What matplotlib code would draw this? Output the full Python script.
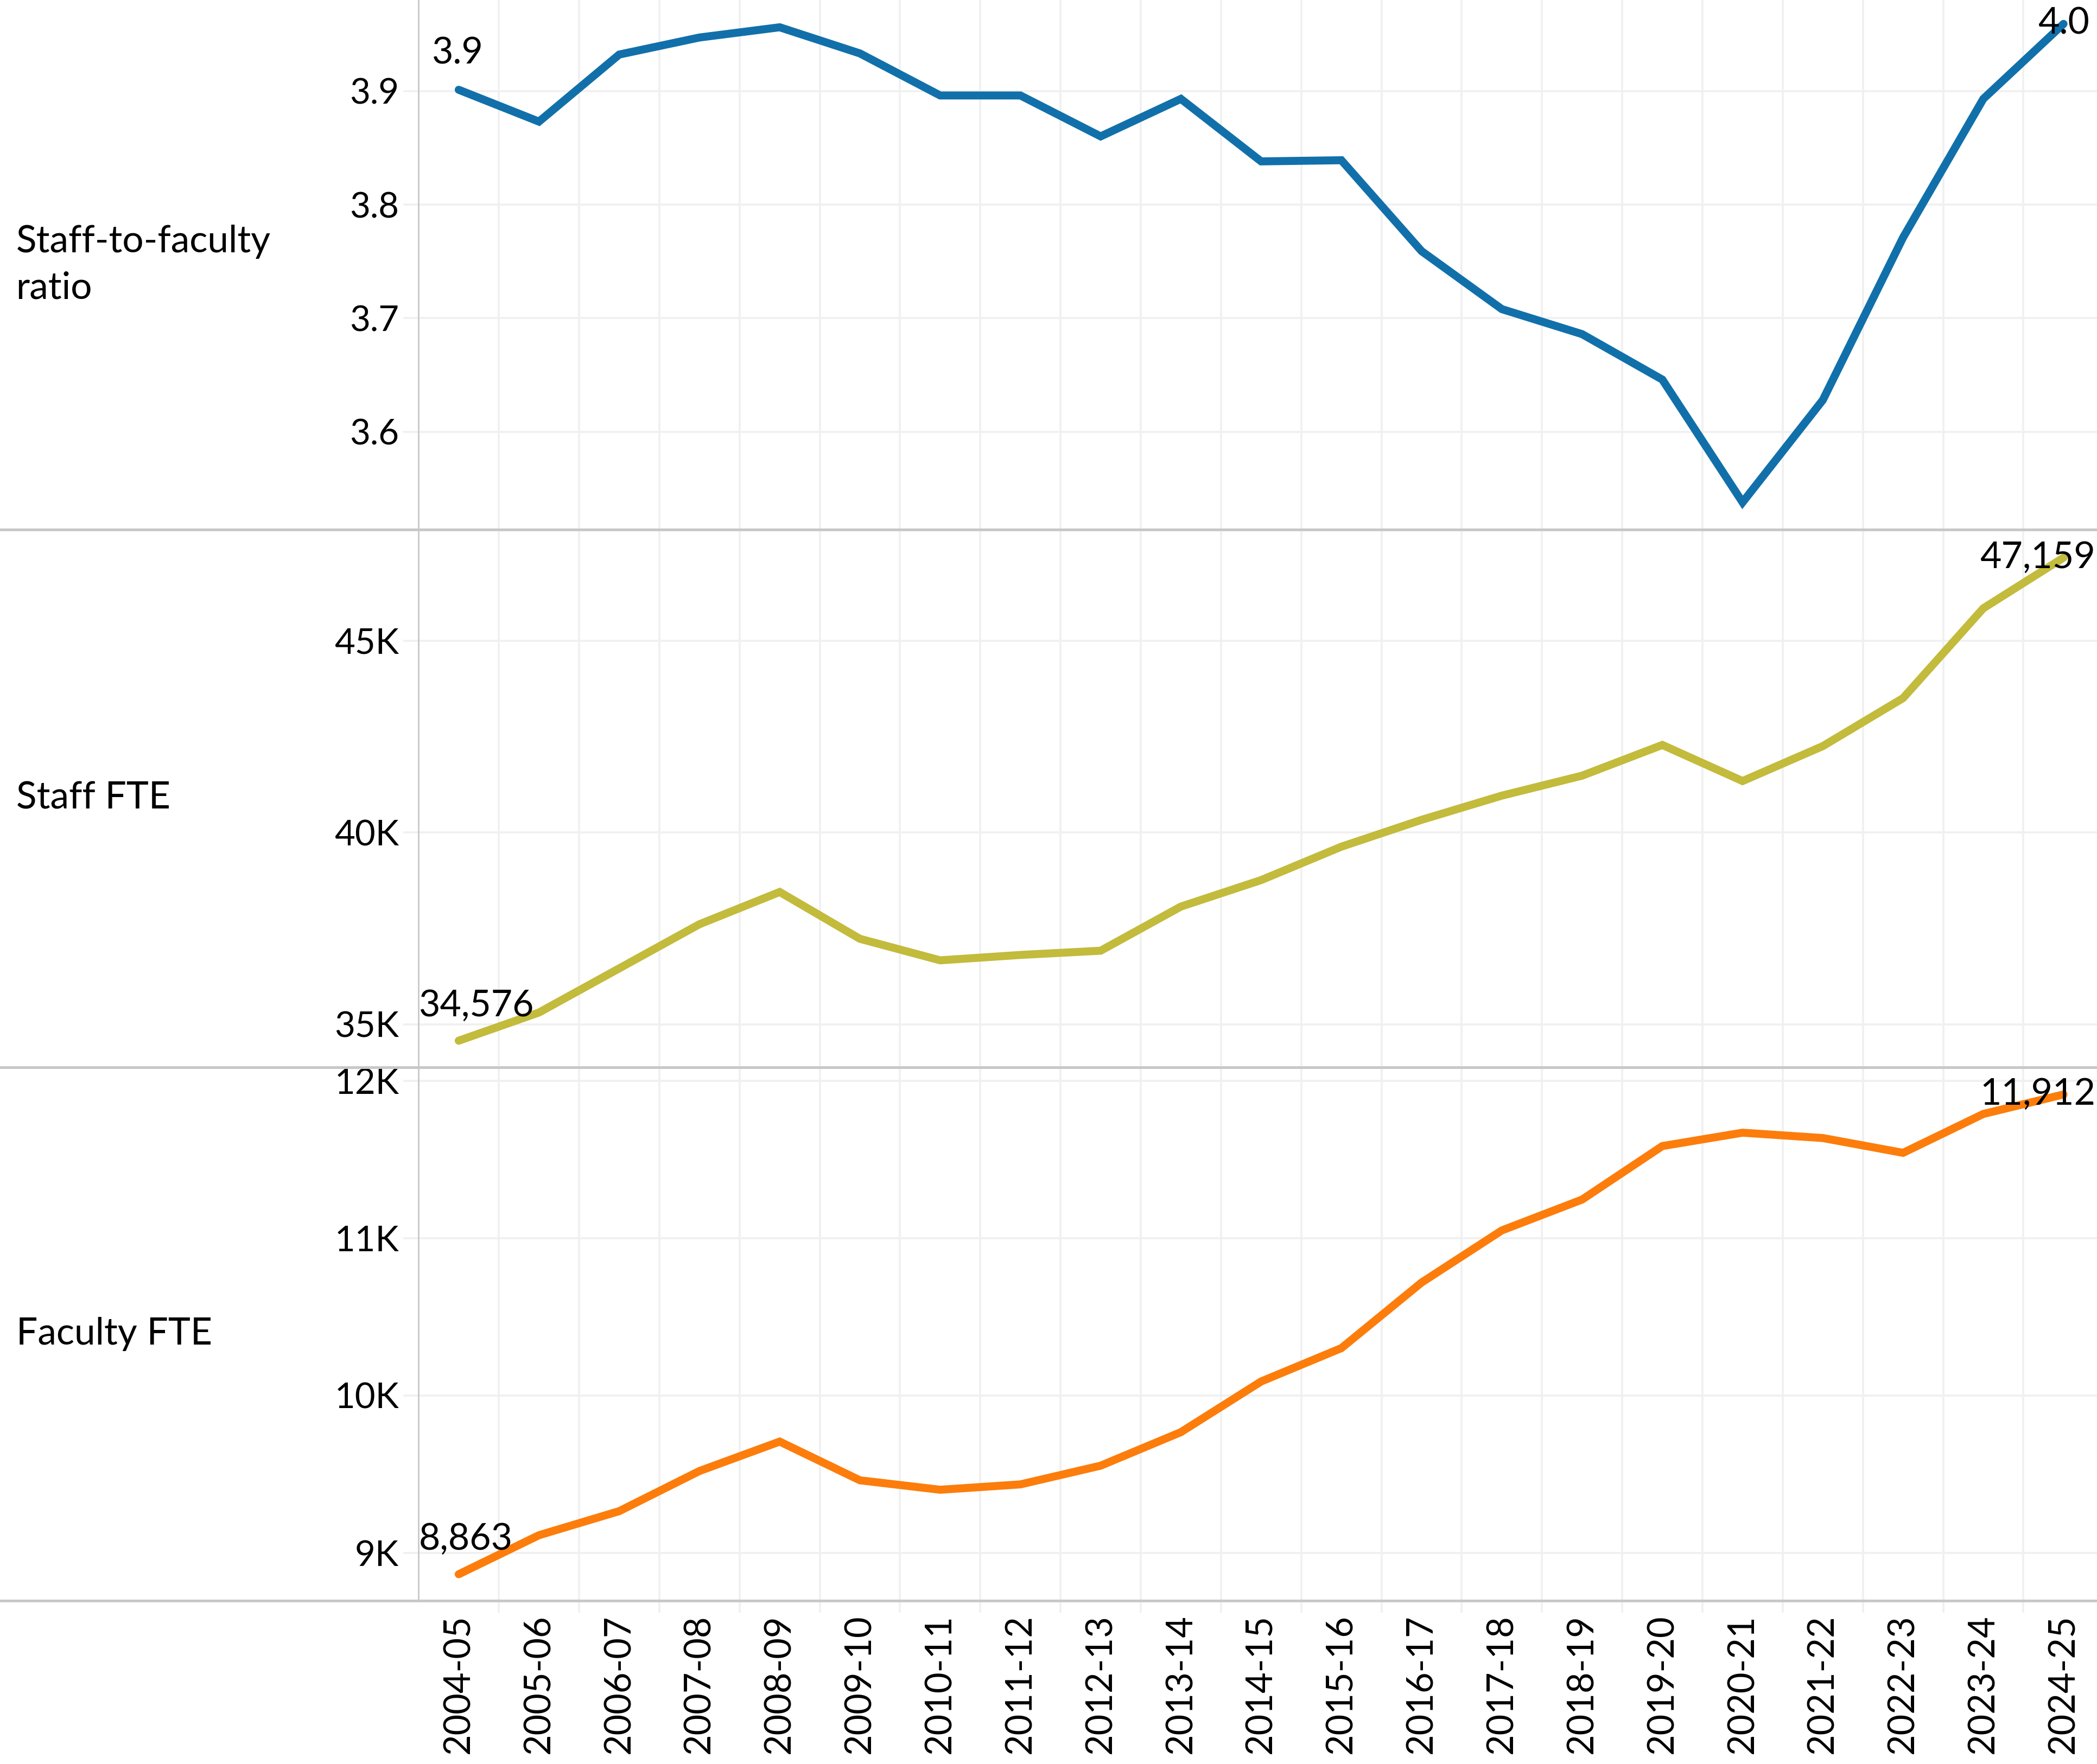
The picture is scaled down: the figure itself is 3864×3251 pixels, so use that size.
import matplotlib
matplotlib.use("Agg")
import matplotlib.pyplot as plt
from matplotlib.lines import Line2D
from matplotlib.ticker import FuncFormatter

plt.rcParams['font.family'] = ['Lato', 'DejaVu Sans']

years = ["2004-05", "2005-06", "2006-07", "2007-08", "2008-09", "2009-10",
         "2010-11", "2011-12", "2012-13", "2013-14", "2014-15", "2015-16",
         "2016-17", "2017-18", "2018-19", "2019-20", "2020-21", "2021-22",
         "2022-23", "2023-24", "2024-25"]

ratio = [3.901, 3.873, 3.932, 3.947, 3.956, 3.933, 3.896, 3.896, 3.860, 3.893,
         3.838, 3.839, 3.759, 3.708, 3.686, 3.646, 3.538, 3.628, 3.771, 3.893,
         3.959]

staff_fte = [34576, 35310, 36460, 37610, 38450, 37230, 36670, 36810, 36920,
             38070, 38760, 39630, 40330, 40960, 41480, 42280, 41340, 42250,
             43500, 45840, 47159]

faculty_fte = [8863, 9111, 9264, 9519, 9706, 9460, 9400, 9434, 9553, 9766,
               10088, 10300, 10717, 11048, 11244, 11584, 11669, 11635, 11541,
               11788, 11912]

row_labels = ["Staff-to-faculty\nratio", "Staff FTE", "Faculty FTE"]
colors = ["#1170aa", "#c2bb3c", "#fc7d0b"]

W, H = 1568.0, 1319.0
fig = plt.figure(figsize=(19.32, 16.255), dpi=200)

grid_c = "#f0f0f0"
sep_c = "#c8c8c8"

# panel extents in (shrunk) pixel rows
panels = [(0, 396), (396, 798), (798, 1197)]
left = 313 / W
x = list(range(len(years)))

TICK_FS = 23.5
LBL_FS = 24.5
ROW_FS = 25


def k_fmt(v, pos):
    return f"{int(round(v / 1000))}K"


specs = [
    dict(data=ratio, ylim=(3.514, 3.98), ticks=[3.6, 3.7, 3.8, 3.9],
         fmt=FuncFormatter(lambda v, p: f"{v:.1f}"),
         first=f"{ratio[0]:.1f}", last=f"{ratio[-1]:.1f}"),
    dict(data=staff_fte, ylim=(33885, 47890), ticks=[35000, 40000, 45000],
         fmt=FuncFormatter(k_fmt),
         first=f"{staff_fte[0]:,}", last=f"{staff_fte[-1]:,}"),
    dict(data=faculty_fte, ylim=(8694, 12085), ticks=[9000, 10000, 11000, 12000],
         fmt=FuncFormatter(k_fmt),
         first=f"{faculty_fte[0]:,}", last=f"{faculty_fte[-1]:,}"),
]

for i, ((top, bot), s) in enumerate(zip(panels, specs)):
    ax = fig.add_axes([left, 1 - bot / H, 1 - left, (bot - top) / H])
    ax.plot(x, s["data"], color=colors[i], lw=5.3, solid_capstyle="round",
            solid_joinstyle="miter", zorder=3)
    ax.set_xlim(-0.5, 20.417)
    ax.set_ylim(*s["ylim"])
    ax.set_yticks(s["ticks"])
    ax.yaxis.set_major_formatter(s["fmt"])
    ax.set_xticks([v + 0.5 for v in x[:-1]], minor=True)
    ax.set_xticks(x)
    ax.grid(True, axis="y", which="major", color=grid_c, lw=1.3)
    ax.grid(True, axis="x", which="minor", color=grid_c, lw=1.3)
    for sp in ["top", "right", "bottom"]:
        ax.spines[sp].set_visible(False)
    ax.spines["left"].set_color(sep_c)
    ax.spines["left"].set_linewidth(1.0)
    ax.tick_params(axis="y", length=10, color=grid_c, width=1.3, pad=3,
                   labelsize=TICK_FS)
    ax.tick_params(axis="x", which="both", length=0)
    ax.set_facecolor("none")
    if i < 2:
        ax.set_xticklabels([])
    else:
        ax.set_xticklabels(years, rotation=90, fontsize=24, va="top")
        ax.tick_params(axis="x", which="minor", length=8, color=grid_c,
                       width=1.3)
        ax.tick_params(axis="x", which="major", pad=9)

    # row label
    fig.text(12 / W, 1 - (top + bot) / 2 / H, row_labels[i], fontsize=ROW_FS,
             ha="left", va="center", linespacing=1.45)

    # start value label
    if i == 0:
        ax.annotate(s["first"], (x[0], s["data"][0]), xytext=(-1, 13),
                    textcoords="offset points", ha="center", va="bottom",
                    fontsize=LBL_FS)
    else:
        ax.annotate(s["first"], (0, s["data"][0]),
                    xycoords=("axes fraction", "data"), xytext=(0, 12),
                    textcoords="offset points", ha="left", va="bottom",
                    fontsize=LBL_FS)
    # end value label
    if i == 0:
        ax.annotate(s["last"], (x[-1], s["data"][-1]), xytext=(0, 0),
                    textcoords="offset points", ha="center", va="center",
                    fontsize=LBL_FS, zorder=4)
    else:
        ax.annotate(s["last"], (1, s["data"][-1]),
                    xycoords=("axes fraction", "data"), xytext=(-1, 0),
                    textcoords="offset points", ha="right", va="center",
                    fontsize=LBL_FS, zorder=4)

# horizontal separators spanning the full width
for _, bot in panels:
    yy = 1 - bot / H
    fig.add_artist(Line2D([0, 1], [yy, yy], transform=fig.transFigure,
                          color=sep_c, lw=1.8, zorder=5))

fig.savefig("out.png", dpi=200, facecolor="white")
